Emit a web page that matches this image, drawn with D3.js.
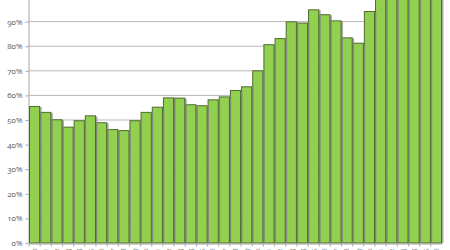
<!DOCTYPE html>
<html>
<head>
<meta charset="utf-8">
<script src="https://cdn.jsdelivr.net/npm/d3@7"></script>
<style>
  html, body { margin: 0; padding: 0; background: #fff; overflow: hidden; }
  svg { display: block; }
  .tick text { font-family: "Open Sans", "Noto Sans", sans-serif; font-variant-numeric: oldstyle-nums; }
</style>
</head>
<body>
<div id="chart"></div>
<script>
// Chart data
const years = [
  '1970', '1971', '1972', '1973', '1974', '1975', '1976', '1977', '1978', '1979',
  '1980', '1981', '1982', '1983', '1984', '1985', '1986', '1987', '1988', '1989',
  '1990', '1991', '1992', '1993', '1994', '1995', '1996', '1997', '1998', '1999',
  '2000', '2001', '2002', '2003', '2004', '2005', '2006'
];
const shares = [
  55.7, 53.3, 50.3, 47.3, 49.9, 51.9, 49.1, 46.3, 45.9, 49.9,
  53.3, 55.4, 59.2, 59.1, 56.4, 56.0, 58.4, 59.6, 62.2, 63.7,
  70.2, 80.8, 83.3, 90.1, 89.6, 95.0, 93.0, 90.5, 83.6, 81.4,
  94.3, 104, 106, 108, 107, 109, 110
];
const yTicks = [0, 0.1, 0.2, 0.3, 0.4, 0.5, 0.6, 0.7, 0.8, 0.9, 1];

// Dimensions
const width = 450;
const height = 250;
const margin = { top: -3, right: 8, bottom: 7, left: 29 };

const data = years.map((y, i) => ({ year: y, value: shares[i] / 100 }));

const svg = d3.select('#chart')
  .append('svg')
    .attr('width', width)
    .attr('height', height);

// Scales
const xScale = d3.scaleBand()
  .domain(years)
  .range([margin.left, width - margin.right])
  .padding(0);

const yScale = d3.scaleLinear()
  .domain([0, 1])
  .range([height - margin.bottom, margin.top]);

// gridlines
svg.append('g')
  .selectAll('line')
  .data(yTicks.slice(1))
  .join('line')
    .attr('x1', margin.left)
    .attr('x2', width - margin.right)
    .attr('y1', d => yScale(d))
    .attr('y2', d => yScale(d))
    .attr('stroke', '#b9b9b9')
    .attr('stroke-width', 1);

// Y axis
const yAxis = svg.append('g')
  .attr('transform', `translate(${margin.left - 0.5}, 0)`)
  .call(d3.axisLeft(yScale).tickValues(yTicks).tickFormat(d3.format('.0%')).tickSizeInner(3).tickSizeOuter(0).tickPadding(3));
yAxis.select('.domain').attr('stroke', '#a6a6a6');
yAxis.selectAll('.tick line').attr('stroke', '#a6a6a6');
yAxis.selectAll('text').attr('fill', '#595959').attr('font-size', 8);

// bars, drawn last to first so each shadow sits over the next bar's edge
const bars = svg.append('g');
const sorted = data.slice().reverse();
sorted.forEach(d => {
  bars.append('rect')
    .attr('x', xScale(d.year) + 1.5)
    .attr('y', yScale(d.value) + 1)
    .attr('width', xScale.bandwidth())
    .attr('height', yScale(0) - yScale(d.value) - 1)
    .attr('fill', '#8d8d8d')
    .attr('opacity', 0.75);
  bars.append('rect')
    .attr('x', xScale(d.year) + 0.5)
    .attr('y', yScale(d.value) + 0.5)
    .attr('width', xScale.bandwidth() - 1)
    .attr('height', yScale(0) - yScale(d.value) - 0.5)
    .attr('fill', '#92d050')
    .attr('stroke', '#4f6b2f')
    .attr('stroke-width', 1);
});

// X axis
const xAxis = svg.append('g')
  .attr('transform', `translate(0, ${yScale(0) + 0.5})`)
  .call(d3.axisBottom(xScale).tickSizeInner(3).tickSizeOuter(0).tickPadding(4));
xAxis.select('.domain').attr('stroke', '#a6a6a6');
xAxis.selectAll('.tick line')
  .attr('stroke', '#a6a6a6')
  .attr('transform', `translate(${-xScale.bandwidth() / 2}, 0)`);
xAxis.selectAll('text')
  .attr('fill', '#8a8a8a')
  .attr('font-size', 7)
  .attr('text-anchor', 'end')
  .attr('dy', '0.32em')
  .attr('transform', 'rotate(-90) translate(-5, 0)')
  .attr('x', 0)
  .attr('y', 0);
</script>
</body>
</html>
